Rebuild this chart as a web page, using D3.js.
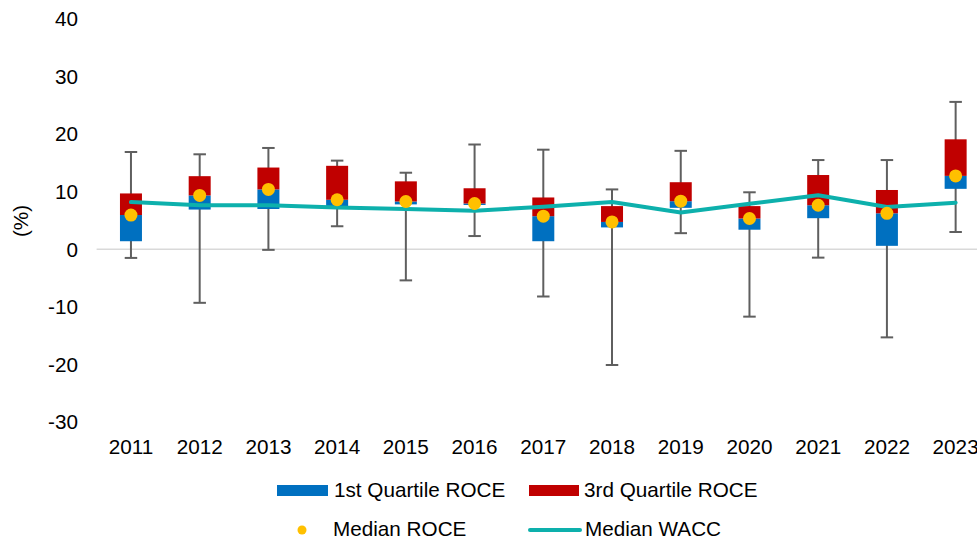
<!DOCTYPE html>
<html>
<head>
<meta charset="utf-8">
<script src="https://cdn.jsdelivr.net/npm/d3@7"></script>
<style>
  html, body { margin: 0; padding: 0; background: #fff; }
  svg { display: block; font-family: "Liberation Sans", Arial, sans-serif; }
</style>
</head>
<body>
<svg id="chart" width="977" height="543"></svg>
<script>
const years = ["2011","2012","2013","2014","2015","2016","2017","2018","2019","2020","2021","2022","2023"];
const roceMin    = [-1.5, -9.3, -0.1, 4.0, -5.4, 2.3, -8.2, -20.1, 2.8, -11.7, -1.45, -15.3, 3.0];
const roceQ1     = [1.4, 6.9, 7.0, 7.5, 7.8, 7.7, 1.4, 3.8, 7.2, 3.4, 5.4, 0.6, 10.5];
const roceMedian = [5.95, 9.35, 10.4, 8.6, 8.3, 7.95, 5.75, 4.75, 8.35, 5.35, 7.65, 6.25, 12.75];
const roceQ3     = [9.7, 12.7, 14.2, 14.5, 11.8, 10.6, 9.0, 7.5, 11.65, 7.5, 12.9, 10.3, 19.1];
const roceMax    = [16.9, 16.5, 17.6, 15.4, 13.3, 18.2, 17.3, 10.4, 17.1, 9.9, 15.5, 15.5, 25.6];
const waccMedian = [8.2, 7.65, 7.65, 7.25, 7.0, 6.7, 7.4, 8.2, 6.4, 7.9, 9.4, 7.35, 8.1];
const yTicks = [-30, -20, -10, 0, 10, 20, 30, 40];

const colors = { q1: "#0070C0", q3: "#C00000", median: "#FFC000", wacc: "#0DB0AC", whisker: "#5F5F5F", zero: "#D9D9D9", text: "#000000" };
const fontSize = 20.7;

const data = years.map((y, i) => ({ year: y, min: roceMin[i], q1: roceQ1[i], med: roceMedian[i], q3: roceQ3[i], max: roceMax[i], wacc: waccMedian[i] }));

const svg = d3.select("#chart");
const x = d3.scaleBand().domain(years).range([96.6, 990]).padding(0);
const y = d3.scaleLinear().domain([-30, 40]).range([422, 19]);
const cx = d => x(d.year) + x.bandwidth() / 2;
const boxW = 22, capW = 12.5;

// zero line
svg.append("line").attr("x1", 96.6).attr("x2", 990).attr("y1", y(0)).attr("y2", y(0))
  .attr("stroke", colors.zero).attr("stroke-width", 1.5);

// y tick labels
svg.append("g").selectAll("text").data(yTicks).join("text")
  .attr("x", 78).attr("y", d => y(d)).attr("dy", "0.35em")
  .attr("text-anchor", "end").attr("font-size", fontSize).attr("fill", colors.text)
  .text(d => d);

// y axis title
svg.append("text").attr("transform", "translate(28,221) rotate(-90)")
  .attr("text-anchor", "middle").attr("font-size", fontSize).attr("fill", colors.text).text("(%)");

// x labels
svg.append("g").selectAll("text").data(years).join("text")
  .attr("x", d => x(d) + x.bandwidth() / 2).attr("y", 454)
  .attr("text-anchor", "middle").attr("font-size", fontSize).attr("fill", colors.text)
  .text(d => d);

// whiskers
const wg = svg.append("g").attr("stroke", colors.whisker).attr("stroke-width", 2);
wg.selectAll("line.v").data(data).join("line").attr("class", "v")
  .attr("x1", cx).attr("x2", cx).attr("y1", d => y(d.min)).attr("y2", d => y(d.max));
wg.selectAll("line.top").data(data).join("line").attr("class", "top")
  .attr("x1", d => cx(d) - capW / 2).attr("x2", d => cx(d) + capW / 2)
  .attr("y1", d => y(d.max)).attr("y2", d => y(d.max));
wg.selectAll("line.bot").data(data).join("line").attr("class", "bot")
  .attr("x1", d => cx(d) - capW / 2).attr("x2", d => cx(d) + capW / 2)
  .attr("y1", d => y(d.min)).attr("y2", d => y(d.min));

// boxes
svg.append("g").selectAll("rect").data(data).join("rect")
  .attr("x", d => cx(d) - boxW / 2).attr("width", boxW)
  .attr("y", d => y(d.med)).attr("height", d => y(d.q1) - y(d.med))
  .attr("fill", colors.q1);
svg.append("g").selectAll("rect").data(data).join("rect")
  .attr("x", d => cx(d) - boxW / 2).attr("width", boxW)
  .attr("y", d => y(d.q3)).attr("height", d => y(d.med) - y(d.q3))
  .attr("fill", colors.q3);

// WACC line
svg.append("path").datum(data)
  .attr("d", d3.line().x(cx).y(d => y(d.wacc)))
  .attr("fill", "none").attr("stroke", colors.wacc).attr("stroke-width", 4)
  .attr("stroke-linejoin", "round").attr("stroke-linecap", "round");

// median dots
svg.append("g").selectAll("circle").data(data).join("circle")
  .attr("cx", cx).attr("cy", d => y(d.med)).attr("r", 6.5).attr("fill", colors.median);

// legend
const lg = svg.append("g").attr("font-size", fontSize).attr("fill", colors.text);
lg.append("rect").attr("x", 277).attr("y", 485).attr("width", 51).attr("height", 11).attr("fill", colors.q1);
lg.append("text").attr("x", 334).attr("y", 490).attr("dy", "0.35em").text("1st Quartile ROCE");
lg.append("rect").attr("x", 529).attr("y", 485).attr("width", 50).attr("height", 11).attr("fill", colors.q3);
lg.append("text").attr("x", 584).attr("y", 490).attr("dy", "0.35em").text("3rd Quartile ROCE");
lg.append("circle").attr("cx", 302).attr("cy", 530).attr("r", 4.5).attr("fill", colors.median);
lg.append("text").attr("x", 333).attr("y", 529).attr("dy", "0.35em").text("Median ROCE");
lg.append("line").attr("x1", 530).attr("x2", 580).attr("y1", 530).attr("y2", 530)
  .attr("stroke", colors.wacc).attr("stroke-width", 4).attr("stroke-linecap", "round");
lg.append("text").attr("x", 585).attr("y", 529).attr("dy", "0.35em").text("Median WACC");
</script>
</body>
</html>
